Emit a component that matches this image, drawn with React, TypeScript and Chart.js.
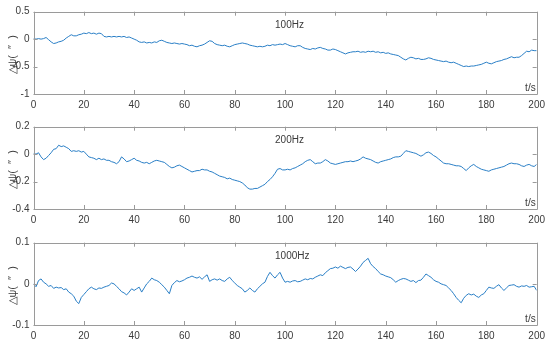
import React, { useEffect, useRef } from "react";
import { Chart, registerables } from "chart.js";

Chart.register(...registerables);

const TIME: number[] = Array.from({ length: 201 }, (_, i) => i);

const X_TICKS = [0, 20, 40, 60, 80, 100, 120, 140, 160, 180, 200];

const PSI_100HZ = [
  0.01, 0.0, 0.01, 0.0, 0.01, 0.03, -0.01, -0.05, -0.08, -0.07,
  -0.05, -0.04, -0.02, 0.02, 0.05, 0.08, 0.06, 0.06, 0.08, 0.09,
  0.11, 0.1, 0.12, 0.1, 0.11, 0.09, 0.11, 0.1, 0.05, 0.04,
  0.05, 0.04, 0.05, 0.04, 0.05, 0.04, 0.05, 0.03, 0.04, 0.02,
  0.0, -0.02, -0.05, -0.06, -0.05, -0.07, -0.06, -0.07, -0.05, -0.06,
  -0.03, -0.02, -0.04, -0.06, -0.07, -0.08, -0.07, -0.08, -0.09, -0.08,
  -0.09, -0.1, -0.12, -0.11, -0.13, -0.14, -0.12, -0.11, -0.09, -0.06,
  -0.03, -0.04, -0.08, -0.1, -0.11, -0.12, -0.11, -0.13, -0.14, -0.12,
  -0.1, -0.09, -0.08, -0.07, -0.08, -0.09, -0.11, -0.12, -0.13, -0.14,
  -0.13, -0.14, -0.13, -0.11, -0.12, -0.1, -0.11, -0.1, -0.09, -0.1,
  -0.08, -0.1, -0.12, -0.13, -0.14, -0.12, -0.12, -0.15, -0.17, -0.18,
  -0.19, -0.17, -0.18, -0.16, -0.15, -0.17, -0.18, -0.2, -0.2, -0.18,
  -0.19, -0.21, -0.23, -0.25, -0.27, -0.25, -0.24, -0.23, -0.23, -0.22,
  -0.24, -0.23, -0.24, -0.22, -0.23, -0.22, -0.24, -0.23, -0.25, -0.24,
  -0.26, -0.25, -0.27, -0.28, -0.29, -0.3, -0.33, -0.36, -0.38, -0.35,
  -0.33, -0.34, -0.36, -0.35, -0.37, -0.37, -0.36, -0.34, -0.35, -0.37,
  -0.38, -0.39, -0.4, -0.41, -0.4, -0.42, -0.43, -0.42, -0.44, -0.46,
  -0.48, -0.5, -0.49, -0.5, -0.49, -0.49, -0.48, -0.47, -0.46, -0.44,
  -0.42, -0.44, -0.45, -0.43, -0.41, -0.4, -0.39, -0.37, -0.36, -0.34,
  -0.32, -0.34, -0.33, -0.33, -0.3, -0.26, -0.22, -0.23, -0.2, -0.21,
  -0.21,
];

const PSI_200HZ = [
  0.005, 0.0, 0.01, -0.02, -0.04, -0.03, -0.01, 0.01, 0.035, 0.04,
  0.065, 0.055, 0.06, 0.05, 0.04, 0.02, 0.025, 0.02, 0.025, 0.015,
  0.02, 0.0, -0.02, -0.025, -0.03, -0.04, -0.03, -0.04, -0.035, -0.045,
  -0.045, -0.055, -0.06, -0.07, -0.055, -0.02, -0.035, -0.055, -0.05, -0.04,
  -0.03, -0.045, -0.05, -0.06, -0.065, -0.06, -0.07, -0.06, -0.05, -0.045,
  -0.05, -0.055, -0.06, -0.075, -0.09, -0.1, -0.095, -0.085, -0.08, -0.09,
  -0.1, -0.11, -0.12, -0.13, -0.125, -0.12, -0.12, -0.11, -0.115, -0.115,
  -0.125, -0.13, -0.14, -0.15, -0.16, -0.165, -0.17, -0.18, -0.175, -0.185,
  -0.19, -0.195, -0.2, -0.21, -0.225, -0.245, -0.255, -0.255, -0.25, -0.25,
  -0.24, -0.23, -0.22, -0.2, -0.185, -0.165, -0.14, -0.11, -0.105, -0.115,
  -0.115, -0.11, -0.115, -0.105, -0.1, -0.09, -0.08, -0.07, -0.055, -0.045,
  -0.04, -0.055, -0.07, -0.065, -0.065, -0.055, -0.04, -0.05, -0.065, -0.07,
  -0.075, -0.07, -0.065, -0.06, -0.055, -0.055, -0.05, -0.055, -0.05, -0.045,
  -0.035, -0.02, -0.03, -0.035, -0.04, -0.05, -0.06, -0.065, -0.055, -0.05,
  -0.045, -0.04, -0.035, -0.025, -0.02, -0.02, -0.015, 0.005, 0.025, 0.02,
  0.015, 0.01, 0.005, -0.005, -0.015, -0.005, 0.01, 0.015, 0.005, -0.01,
  -0.02, -0.035, -0.05, -0.065, -0.07, -0.07, -0.075, -0.08, -0.085, -0.085,
  -0.09, -0.105, -0.12, -0.1, -0.085, -0.075, -0.09, -0.1, -0.11, -0.115,
  -0.12, -0.125, -0.115, -0.11, -0.105, -0.1, -0.095, -0.09, -0.08, -0.07,
  -0.065, -0.07, -0.07, -0.075, -0.085, -0.09, -0.08, -0.075, -0.085, -0.09,
  -0.075,
];

const PSI_1000HZ = [
  0.0, -0.007, 0.008, 0.012, 0.004, 0.0, -0.006, -0.004, -0.011, -0.008,
  -0.01, -0.009, -0.014, -0.012, -0.02, -0.024, -0.03, -0.042, -0.048, -0.033,
  -0.026, -0.019, -0.012, -0.008, -0.012, -0.014, -0.01, -0.011, -0.008, -0.006,
  -0.004, 0.002, 0.0, -0.006, -0.012, -0.019, -0.022, -0.027, -0.02, -0.012,
  -0.016, -0.012, -0.008, -0.02, -0.01, 0.0, 0.006, 0.014, 0.01, 0.008,
  0.004, -0.002, -0.008, -0.016, -0.024, -0.004, 0.003, 0.008, 0.005, 0.007,
  0.01, 0.014, 0.016, 0.019, 0.016, 0.014, 0.017, 0.011, 0.017, 0.022,
  0.006, 0.01, 0.012, 0.009, 0.012, 0.008, 0.006, 0.012, 0.016, 0.008,
  0.002, -0.004, -0.008, -0.012, -0.02, -0.016, -0.01, -0.016, -0.02, -0.012,
  -0.006, 0.0, 0.004, 0.018, 0.028, 0.02, 0.014, 0.022, 0.028, 0.014,
  0.004, 0.006, 0.004, 0.007, 0.008, 0.005, 0.006, 0.009, 0.012, 0.01,
  0.013, 0.012, 0.016, 0.019, 0.022, 0.02, 0.027, 0.032, 0.037, 0.038,
  0.041, 0.038, 0.043, 0.04, 0.037, 0.04, 0.041, 0.036, 0.03, 0.036,
  0.043, 0.052, 0.057, 0.062, 0.049, 0.042, 0.037, 0.03, 0.024, 0.022,
  0.019, 0.017, 0.015, 0.01, 0.004, 0.008, 0.011, 0.013, 0.012, 0.009,
  0.006, 0.008, 0.003, 0.008, 0.009, 0.016, 0.024, 0.02, 0.016, 0.01,
  0.006, 0.004, 0.0, -0.002, -0.004, -0.01, -0.016, -0.024, -0.033, -0.04,
  -0.046, -0.035, -0.028, -0.024, -0.027, -0.025, -0.03, -0.033, -0.027, -0.024,
  -0.016, -0.008, -0.01, -0.011, -0.006, -0.002, -0.01, -0.016, -0.01, -0.004,
  -0.003, -0.002, -0.006, -0.008, -0.005, -0.006, -0.004, -0.008, -0.007, -0.006,
  -0.016,
];

const PANELS = [
  { title: "100Hz", values: PSI_100HZ, min: -1, max: 0.5, step: 0.5 },
  { title: "200Hz", values: PSI_200HZ, min: -0.4, max: 0.2, step: 0.2 },
  { title: "1000Hz", values: PSI_1000HZ, min: -0.1, max: 0.1, step: 0.1 },
];

const Y_TITLE = "△ψ(  ″  )";
const X_UNIT = "t/s";

const FONT = "'Liberation Sans Narrow', 'Liberation Sans', Arial, sans-serif";
const LINE_COLOR = "#2a7fc6";
const BOX_COLOR = "#9a9a9a";
const TEXT_COLOR = "#3a3a3a";

const PANEL_H = 115;
const PANEL_TOPS = [0, 115, 230.6];

function Panel({ idx }: { idx: number }) {
  const ref = useRef<HTMLCanvasElement | null>(null);
  useEffect(() => {
    const p = PANELS[idx];
    const boxPlugin = {
      id: "boxPlugin",
      afterDatasetsDraw(chart: any) {
        const { ctx, chartArea, scales } = chart;
        const { left, right, top, bottom } = chartArea;
        ctx.save();
        ctx.strokeStyle = BOX_COLOR;
        ctx.lineWidth = 1;
        ctx.beginPath();
        ctx.rect(Math.round(left) + 0.5, Math.round(top) + 0.5, Math.round(right - left), Math.round(bottom - top));
        ctx.stroke();
        const tl = 4;
        ctx.beginPath();
        for (const v of X_TICKS) {
          const x = Math.round(scales.x.getPixelForValue(v)) + 0.5;
          ctx.moveTo(x, bottom);
          ctx.lineTo(x, bottom - tl);
          ctx.moveTo(x, top);
          ctx.lineTo(x, top + tl);
        }
        for (let v = p.min; v <= p.max + 1e-9; v += p.step) {
          const y = Math.round(scales.y.getPixelForValue(v)) + 0.5;
          ctx.moveTo(left, y);
          ctx.lineTo(left + tl, y);
          ctx.moveTo(right, y);
          ctx.lineTo(right - tl, y);
        }
        ctx.stroke();
        ctx.fillStyle = TEXT_COLOR;
        ctx.font = `10px ${FONT}`;
        ctx.textBaseline = "middle";
        ctx.textAlign = "left";
        ctx.fillText(p.title, scales.x.getPixelForValue(96), top + 14);
        ctx.textAlign = "right";
        ctx.fillText(X_UNIT, right - 1, bottom - 6);
        ctx.font = `11px ${FONT}`;
        ctx.translate(13, (top + bottom) / 2 + 2);
        ctx.rotate(-Math.PI / 2);
        ctx.textAlign = "center";
        ctx.fillText(Y_TITLE, 0, 0);
        ctx.restore();
      },
    };
    const chart = new Chart(ref.current as HTMLCanvasElement, {
      type: "line",
      data: {
        datasets: [
          {
            data: TIME.map((t, i) => ({ x: t, y: p.values[i] })),
            borderColor: LINE_COLOR,
            borderWidth: 1,
            pointRadius: 0,
            tension: 0,
            fill: false,
          },
        ],
      },
      options: {
        animation: false,
        responsive: true,
        maintainAspectRatio: false,
        layout: { padding: { top: 11.7, right: 11.5, left: 0, bottom: 0 } },
        plugins: { legend: { display: false }, tooltip: { enabled: false } },
        scales: {
          x: {
            type: "linear",
            min: 0,
            max: 200,
            afterBuildTicks: (s: any) => {
              s.ticks = X_TICKS.map((v) => ({ value: v }));
            },
            afterFit: (s: any) => {
              s.height = PANEL_H - 94;
            },
            grid: { display: false, drawTicks: false, tickLength: 0 },
            border: { display: false },
            ticks: { color: TEXT_COLOR, font: { family: FONT, size: 10 }, padding: 5, maxRotation: 0 },
          },
          y: {
            min: p.min,
            max: p.max,
            afterFit: (s: any) => {
              s.width = 33.5;
            },
            grid: { display: false, drawTicks: false, tickLength: 0 },
            border: { display: false },
            ticks: {
              stepSize: p.step,
              color: TEXT_COLOR,
              font: { family: FONT, size: 10 },
              padding: 4,
              callback: (v: any) => String(Number(Number(v).toFixed(3))),
            },
          },
        },
      } as any,
      plugins: [boxPlugin],
    });
    return () => chart.destroy();
  }, [idx]);
  return (
    <div style={{ position: "absolute", left: 0, top: PANEL_TOPS[idx], width: 550, height: PANEL_H }}>
      <canvas ref={ref} />
    </div>
  );
}

export default function App() {
  return (
    <div style={{ position: "fixed", left: 0, top: 0, width: 550, height: 349, background: "#fff" }}>
      {PANELS.map((_, i) => (
        <Panel key={i} idx={i} />
      ))}
    </div>
  );
}
